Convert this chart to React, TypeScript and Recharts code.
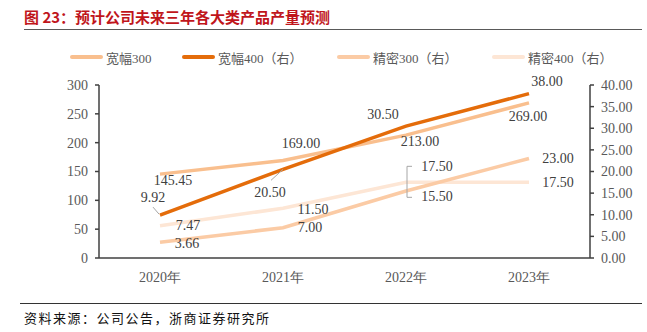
import React from 'react';
import { LineChart, Line, XAxis, YAxis, LabelList } from 'recharts';

const categories = ['2020年', '2021年', '2022年', '2023年'];
const kuanfu300 = [145.45, 169.0, 213.0, 269.0];
const kuanfu400 = [9.92, 20.5, 30.5, 38.0];
const jingmi300 = [3.66, 7.0, 15.5, 23.0];
const jingmi400 = [7.47, 11.5, 17.5, 17.5];
const leftTicks = [0, 50, 100, 150, 200, 250, 300];
const rightTicks = [0, 5, 10, 15, 20, 25, 30, 35, 40];

const seriesNames = ['宽幅300', '宽幅400（右）', '精密300（右）', '精密400（右）'];
const seriesKeys = ['kf300', 'kf400', 'jm300', 'jm400'];
const seriesColors = ['#F9BF8E', '#E46C0A', '#FBCBA5', '#FDE6D5'];
const seriesAxis = ['left', 'right', 'right', 'right'];

const rows = categories.map((c, i) => ({
  cat: c,
  kf300: kuanfu300[i],
  kf400: kuanfu400[i],
  jm300: jingmi300[i],
  jm400: jingmi400[i],
}));

// label offsets relative to each point (style only)
const labelOffsets: number[][][] = [
  [[13, 6], [18, -17], [14, 6], [-1, 14]],
  [[-7, -18], [-13, 23], [-23, -12], [18, -12]],
  [[27, 1], [27, 0], [31, 6], [29, 0]],
  [[28, 0], [30, 1], [31, -16], [29, 0]],
];
// leader paths relative to point
const leaders: (string | null)[][] = [
  [null, null, null, null],
  ['M -7 -8 L -1 -1', 'M 0 0 L -12 11', null, null],
  [null, null, null, null],
  [null, null, 'M 6 -16 L 1 -16 L 1 15 L 6 15', null],
];
const legendX = [70, 182, 337, 492];

const makeLabel = (si: number) => (props: any) => {
  const { x, y, value, index } = props;
  if (x == null || y == null) return null;
  const [dx, dy] = labelOffsets[si][index];
  const lp = leaders[si][index];
  return (
    <g>
      {lp ? <path d={lp} transform={`translate(${x},${y})`} stroke="#A6A6A6" strokeWidth={1} fill="none" /> : null}
      <text
        x={x + dx}
        y={y + dy}
        textAnchor="middle"
        dominantBaseline="central"
        fontFamily="'Liberation Serif', serif"
        fontSize={14}
        fill="#404040"
      >
        {Number(value).toFixed(2)}
      </text>
    </g>
  );
};

const tickStyle = { fontFamily: "'Liberation Serif', serif", fontSize: 14, fill: '#595959' };

export default function App() {
  return (
    <div style={{ position: 'absolute', left: 0, top: 0, width: 647, height: 332, background: '#fff', overflow: 'hidden' }}>
      <div
        style={{
          position: 'absolute', left: 24, top: 7, fontFamily: "'Noto Sans CJK SC', sans-serif", fontWeight: 700,
          fontSize: 15, color: '#C0151B', whiteSpace: 'nowrap', lineHeight: '20px',
        }}
      >
        图 23：预计公司未来三年各大类产品产量预测
      </div>
      <div style={{ position: 'absolute', left: 24, top: 29, width: 618, height: 0, borderTop: '1.5px solid #595959' }} />
      <LineChart width={647} height={332} data={rows} margin={{ top: 85, right: 0, bottom: 44, left: 39 }}>
        <XAxis
          dataKey="cat"
          height={30}
          tickSize={0}
          tickMargin={14}
          tickLine={false}
          padding={{ left: 61, right: 61 }}
          axisLine={{ stroke: '#404040', strokeWidth: 1.5 }}
          tick={tickStyle}
          interval={0}
        />
        <YAxis
          yAxisId="left"
          width={60}
          domain={[0, 300]}
          ticks={leftTicks}
          tickSize={4}
          tickMargin={7}
          axisLine={{ stroke: '#404040', strokeWidth: 1.5 }}
          tickLine={{ stroke: '#404040', strokeWidth: 1.5 }}
          tick={tickStyle}
          interval={0}
        />
        <YAxis
          yAxisId="right"
          orientation="right"
          width={57}
          domain={[0, 40]}
          ticks={rightTicks}
          tickSize={4}
          tickMargin={7}
          axisLine={{ stroke: '#404040', strokeWidth: 1.5 }}
          tickLine={{ stroke: '#404040', strokeWidth: 1.5 }}
          tick={tickStyle}
          tickFormatter={(v: number) => v.toFixed(2)}
          interval={0}
        />
        {[3, 2, 0, 1].map((si) => (
          <Line
            key={seriesKeys[si]}
            yAxisId={seriesAxis[si]}
            dataKey={seriesKeys[si]}
            name={seriesNames[si]}
            stroke={seriesColors[si]}
            strokeWidth={3.5}
            dot={false}
            activeDot={false}
            isAnimationActive={false}
          >
            <LabelList dataKey={seriesKeys[si]} content={makeLabel(si)} />
          </Line>
        ))}
      </LineChart>
      {seriesNames.map((n, i) => (
        <div
          key={n}
          style={{
            position: 'absolute', left: legendX[i], top: 48, height: 18, display: 'flex', alignItems: 'center',
            whiteSpace: 'nowrap',
          }}
        >
          <div style={{ width: 33, height: 4, borderRadius: 2, background: seriesColors[i], marginRight: 3 }} />
          <span style={{ fontFamily: "'Liberation Serif', 'Noto Sans CJK SC', serif", fontSize: 13, color: '#595959' }}>{n}</span>
        </div>
      ))}
      <div style={{ position: 'absolute', left: 20, top: 303, width: 622, height: 0, borderTop: '1px solid #333' }} />
      <div
        style={{
          position: 'absolute', left: 24, top: 310, fontFamily: "'Noto Sans CJK SC', sans-serif", fontSize: 13,
          letterSpacing: 1.5, color: '#111', whiteSpace: 'nowrap', lineHeight: '16px',
        }}
      >
        资料来源：公司公告，浙商证券研究所
      </div>
    </div>
  );
}
